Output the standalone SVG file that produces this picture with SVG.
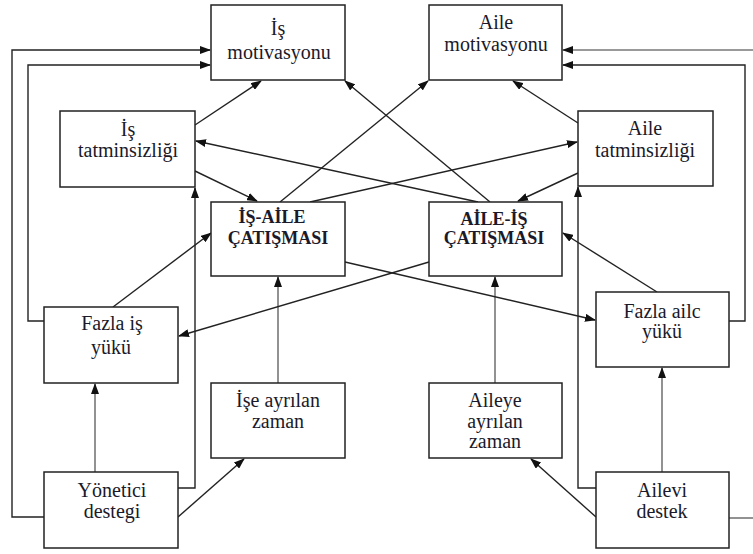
<svg xmlns="http://www.w3.org/2000/svg" width="753" height="554" viewBox="0 0 753 554">
  <defs>
    <marker id="arrow" markerUnits="userSpaceOnUse" markerWidth="11" markerHeight="8" refX="10" refY="4" orient="auto">
      <path d="M0,0 L11,4 L0,8 z" fill="#111"/>
    </marker>
    <style>
      .box { fill: #fff; stroke: #222; stroke-width: 1.5; }
      .lbl { font-family: "Liberation Serif", "Times New Roman", serif; font-size: 20px; fill: #1a1a2a; text-anchor: middle; }
      .bold { font-weight: bold; font-size: 18px; }
      .ln { fill: none; stroke: #222; stroke-width: 1.4; }
      .gray { fill: none; stroke: #777; stroke-width: 1.6; }
      .arr { marker-end: url(#arrow); }
    </style>
  </defs>
  <rect width="753" height="554" fill="#fff"/>

  <!-- connectors -->
  <g id="connectors">
    <!-- outer feedback loops, left -->
    <polyline class="ln arr" points="44,517 12,517 12,50 210,50"/>
    <polyline class="ln arr" points="44,321 28,321 28,65 210,65"/>
    <polyline class="ln arr" points="178,488 195,488 195,188"/>
    <!-- outer feedback loops, right -->
    <polyline class="gray" points="729,518 756,518"/>
    <polyline class="gray arr" points="756,50 563,50"/>
    <polyline class="ln arr" points="729,321 745,321 745,65 563,65"/>
    <polyline class="ln arr" points="596,488 578,488 578,187"/>

    <!-- vertical supports -->
    <line class="gray arr" x1="95" y1="472" x2="95" y2="384"/>
    <line class="gray arr" x1="278" y1="383" x2="278" y2="277"/>
    <line class="gray arr" x1="495" y1="383" x2="495" y2="277"/>
    <line class="gray arr" x1="662" y1="472" x2="662" y2="368"/>

    <!-- support to time allocation -->
    <line class="ln arr" x1="178" y1="517" x2="244" y2="459"/>
    <line class="ln arr" x1="596" y1="517" x2="531" y2="459"/>

    <!-- workload and conflict -->
    <line class="ln arr" x1="113" y1="307" x2="211" y2="233"/>
    <line class="ln arr" x1="429" y1="262" x2="179" y2="336"/>
    <line class="ln arr" x1="345" y1="262" x2="595" y2="320"/>
    <line class="ln arr" x1="657" y1="292" x2="563" y2="233"/>

    <!-- dissatisfaction, motivation and conflict -->
    <line class="ln arr" x1="195" y1="125" x2="261" y2="81"/>
    <line class="ln arr" x1="195" y1="171" x2="257" y2="201"/>
    <line class="ln arr" x1="578" y1="123" x2="513" y2="81"/>
    <line class="ln arr" x1="578" y1="173" x2="518" y2="201"/>
    <line class="ln arr" x1="280" y1="202" x2="428" y2="81"/>
    <line class="ln arr" x1="490" y1="202" x2="345" y2="81"/>
    <line class="ln arr" x1="310" y1="202" x2="577" y2="142"/>
    <line class="ln arr" x1="478" y1="202" x2="196" y2="141"/>
  </g>

  <!-- nodes -->
  <g id="is-motivasyonu">
    <rect class="box" x="211" y="5" width="134" height="75"/>
    <text class="lbl" x="278" y="35">İş</text>
    <text class="lbl" x="279" y="59">motivasyonu</text>
  </g>
  <g id="aile-motivasyonu">
    <rect class="box" x="429" y="5" width="133" height="75"/>
    <text class="lbl" x="496" y="29">Aile</text>
    <text class="lbl" x="496" y="51">motivasyonu</text>
  </g>
  <g id="is-tatminsizligi">
    <rect class="box" x="60" y="111" width="135" height="76"/>
    <text class="lbl" x="128" y="136">İş</text>
    <text class="lbl" x="128" y="157">tatminsizliği</text>
  </g>
  <g id="aile-tatminsizligi">
    <rect class="box" x="578" y="111" width="135" height="75"/>
    <text class="lbl" x="645" y="135">Aile</text>
    <text class="lbl" x="645" y="157">tatminsizliği</text>
  </g>
  <g id="is-aile-catismasi">
    <rect class="box" x="211" y="202" width="134" height="74"/>
    <text class="lbl bold" x="272" y="223">İŞ-AİLE</text>
    <text class="lbl bold" x="278" y="244">ÇATIŞMASI</text>
  </g>
  <g id="aile-is-catismasi">
    <rect class="box" x="429" y="202" width="133" height="74"/>
    <text class="lbl bold" x="494" y="225">AİLE-İŞ</text>
    <text class="lbl bold" x="494" y="244">ÇATIŞMASI</text>
  </g>
  <g id="fazla-is-yuku">
    <rect class="box" x="44" y="307" width="134" height="76"/>
    <text class="lbl" x="112" y="330">Fazla iş</text>
    <text class="lbl" x="111" y="354">yükü</text>
  </g>
  <g id="fazla-aile-yuku">
    <rect class="box" x="596" y="292" width="133" height="75"/>
    <text class="lbl" x="662" y="318">Fazla ailc</text>
    <text class="lbl" x="662" y="338">yükü</text>
  </g>
  <g id="ise-ayrilan-zaman">
    <rect class="box" x="211" y="383" width="134" height="75"/>
    <text class="lbl" x="278" y="407">İşe ayrılan</text>
    <text class="lbl" x="278" y="428">zaman</text>
  </g>
  <g id="aileye-ayrilan-zaman">
    <rect class="box" x="429" y="383" width="133" height="75"/>
    <text class="lbl" x="495" y="407">Aileye</text>
    <text class="lbl" x="495" y="428">ayrılan</text>
    <text class="lbl" x="495" y="448">zaman</text>
  </g>
  <g id="yonetici-destegi">
    <rect class="box" x="44" y="472" width="134" height="76"/>
    <text class="lbl" x="112" y="497">Yönetici</text>
    <text class="lbl" x="112" y="518">destegi</text>
  </g>
  <g id="ailevi-destek">
    <rect class="box" x="596" y="472" width="133" height="76"/>
    <text class="lbl" x="662" y="497">Ailevi</text>
    <text class="lbl" x="662" y="518">destek</text>
  </g>
</svg>
